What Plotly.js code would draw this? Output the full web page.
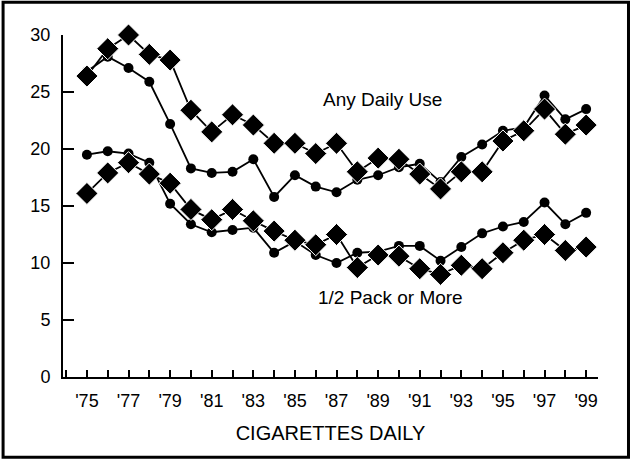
<!DOCTYPE html>
<html>
<head>
<meta charset="utf-8">
<script src="https://cdn.plot.ly/plotly-3.0.1.min.js"></script>
<style>
html,body{margin:0;padding:0;background:#fff;}
#chart{width:637px;height:463px;}
</style>
</head>
<body>
<div id="chart"></div>
<script>
// Years of the survey
var years = [1975,1976,1977,1978,1979,1980,1981,1982,1983,1984,1985,1986,1987,1988,1989,1990,1991,1992,1993,1994,1995,1996,1997,1998,1999];

// Any Daily Use
var anyDiamond = [26.4,28.8,30.0,28.3,27.8,23.4,21.5,23.0,22.1,20.5,20.5,19.6,20.5,18.0,19.2,19.1,17.8,16.5,18.0,18.0,20.7,21.6,23.5,21.3,22.1];
var anyCircle  = [26.8,28.1,27.1,25.9,22.2,18.3,17.9,18.0,19.1,15.8,17.7,16.7,16.2,17.3,17.7,18.4,18.7,17.1,19.3,20.4,21.6,21.9,24.7,22.6,23.5];

// 1/2 Pack or More
var halfDiamond = [16.1,17.9,18.8,17.8,17.0,14.7,13.8,14.7,13.7,12.8,12.0,11.6,12.5,9.6,10.7,10.6,9.5,9.0,9.8,9.5,10.9,12.0,12.5,11.1,11.4];
var halfCircle  = [19.5,19.8,19.6,18.8,15.2,13.4,12.7,12.9,13.1,10.9,11.9,10.7,10.0,10.9,11.0,11.5,11.5,10.2,11.4,12.6,13.2,13.6,15.3,13.4,14.4];

// Tick labels
var xTickVals = [1975,1977,1979,1981,1983,1985,1987,1989,1991,1993,1995,1997,1999];
var xTickText = ["'75","'77","'79","'81","'83","'85","'87","'89","'91","'93","'95","'97","'99"];
var yTickVals = [0,5,10,15,20,25,30];

var FONT = 'Liberation Sans, Arial, sans-serif';

function circleTrace(y){
  return {x: years, y: y, type:'scatter', mode:'lines+markers',
    line:{color:'#000', width:1.8},
    marker:{symbol:'circle', size:10, color:'#000'},
    hoverinfo:'x+y', showlegend:false, cliponaxis:false};
}
function diamondTrace(y){
  return {x: years, y: y, type:'scatter', mode:'lines+markers',
    line:{color:'#000', width:1.8},
    marker:{symbol:'diamond', size:17, color:'#000', line:{color:'#fff', width:1}},
    hoverinfo:'x+y', showlegend:false, cliponaxis:false};
}

var data = [circleTrace(halfCircle), diamondTrace(halfDiamond), circleTrace(anyCircle), diamondTrace(anyDiamond)];

var layout = {
  width:637, height:463,
  margin:{l:63, r:39, t:35, b:86, pad:0},
  paper_bgcolor:'#fff', plot_bgcolor:'#fff',
  font:{family:FONT, color:'#000', size:18},
  showlegend:false,
  xaxis:{
    range:[1973.85, 1999.57],
    tickvals:xTickVals, ticktext:xTickText,
    ticks:'inside', ticklen:7, tickwidth:2, tickcolor:'#000',
    minor:{dtick:1, tick0:1975, ticks:'inside', ticklen:7, tickwidth:2, tickcolor:'#000'},
    showline:true, linecolor:'#000', linewidth:2,
    showgrid:false, zeroline:false,
    tickfont:{family:FONT, size:18, color:'#000'},
    ticklabelstandoff:6,
    title:{text:'CIGARETTES DAILY', font:{family:FONT, size:20, color:'#000'}, standoff:16}
  },
  yaxis:{
    range:[0,30],
    tickvals:yTickVals,
    ticks:'inside', ticklen:11, tickwidth:2, tickcolor:'#000',
    showline:true, linecolor:'#000', linewidth:2,
    showgrid:false, zeroline:false,
    tickfont:{family:FONT, size:18, color:'#000'},
    ticklabelstandoff:7
  },
  annotations:[
    {x:1989.2, y:24.3, xref:'x', yref:'y', text:'Any Daily Use', showarrow:false,
     font:{family:FONT, size:19, color:'#000'}},
    {x:1989.6, y:7.0, xref:'x', yref:'y', text:'1/2 Pack or More', showarrow:false,
     font:{family:FONT, size:19, color:'#000'}}
  ],
  shapes:[
    {type:'rect', xref:'paper', yref:'paper', x0:-0.112, x1:1.057, y0:-0.235, y1:1.096,
     line:{color:'#000', width:3}, fillcolor:'rgba(0,0,0,0)', layer:'below'}
  ]
};

Plotly.newPlot('chart', data, layout, {displayModeBar:false, staticPlot:true});
</script>
</body>
</html>
